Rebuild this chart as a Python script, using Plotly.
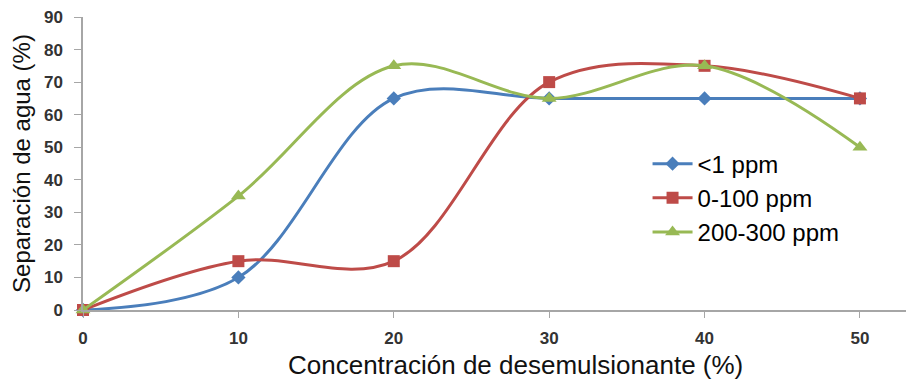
import plotly.graph_objects as go

x_vals = [0, 10, 20, 30, 40, 50]
s_lt1 = [0, 10, 65, 65, 65, 65]
s_0_100 = [0, 15, 15, 70, 75, 65]
s_200_300 = [0, 35, 75, 65, 75, 50]
names = ["<1 ppm", "0-100 ppm", "200-300 ppm"]
colors = ["#4A7EBB", "#BE4B48", "#98B954"]
symbols = ["diamond", "square", "triangle-up"]
sizes = [11, 12, 13]
x_title = "Concentración de desemulsionante (%)"
y_title = "Separación de agua (%)"

fig = go.Figure()
for ys, n, c, s, sz in zip([s_lt1, s_0_100, s_200_300], names, colors, symbols, sizes):
    fig.add_trace(go.Scatter(
        x=x_vals, y=ys, name=n, mode="lines+markers",
        line=dict(color=c, width=3, shape="spline", smoothing=1.0),
        marker=dict(color=c, symbol=s, size=sz),
        cliponaxis=False,
    ))

# page body has an 8px margin, so figure is 906x373 and placed at (8, 8)
fig.update_layout(
    width=906, height=373,
    margin=dict(l=75, r=2, t=9, b=71),
    paper_bgcolor="white", plot_bgcolor="white",
    showlegend=True,
    legend=dict(x=0.681, y=0.575, xanchor="left", yanchor="top",
                font=dict(family="Liberation Sans, Arial", size=24, color="#000"),
                bgcolor="rgba(0,0,0,0)", itemwidth=40, tracegroupgap=0),
    font=dict(family="Liberation Sans, Arial", color="#222"),
    annotations=[dict(text=x_title, xref="paper", yref="paper", x=0.522, y=-0.188,
                      xanchor="center", yanchor="middle", showarrow=False,
                      font=dict(family="Liberation Sans, Arial", size=26, color="#111"))],
)
fig.update_xaxes(
    range=[0, 53.35], tickvals=[0, 10, 20, 30, 40, 50], showgrid=False, zeroline=False,
    automargin=False, ticklabeloverflow="allow",
    showline=True, linecolor="#A6A6A6", linewidth=1.5, ticks="outside", ticklen=6, tickcolor="#A6A6A6",
    ticklabelstandoff=6,
    tickfont=dict(family="Liberation Sans, Arial", size=17, color="#333", weight="bold"),
)
fig.update_yaxes(
    range=[0, 90], dtick=10, showgrid=False, zeroline=False,
    automargin=False, ticklabeloverflow="allow",
    showline=True, linecolor="#A6A6A6", linewidth=1.5, ticks="outside", ticklen=7, tickcolor="#A6A6A6",
    ticklabelstandoff=8,
    tickfont=dict(family="Liberation Sans, Arial", size=17, color="#333", weight="bold"),
    title=dict(text=y_title,
               font=dict(family="Liberation Sans, Arial", size=24, color="#111")),
)
fig.write_html("out.html")
